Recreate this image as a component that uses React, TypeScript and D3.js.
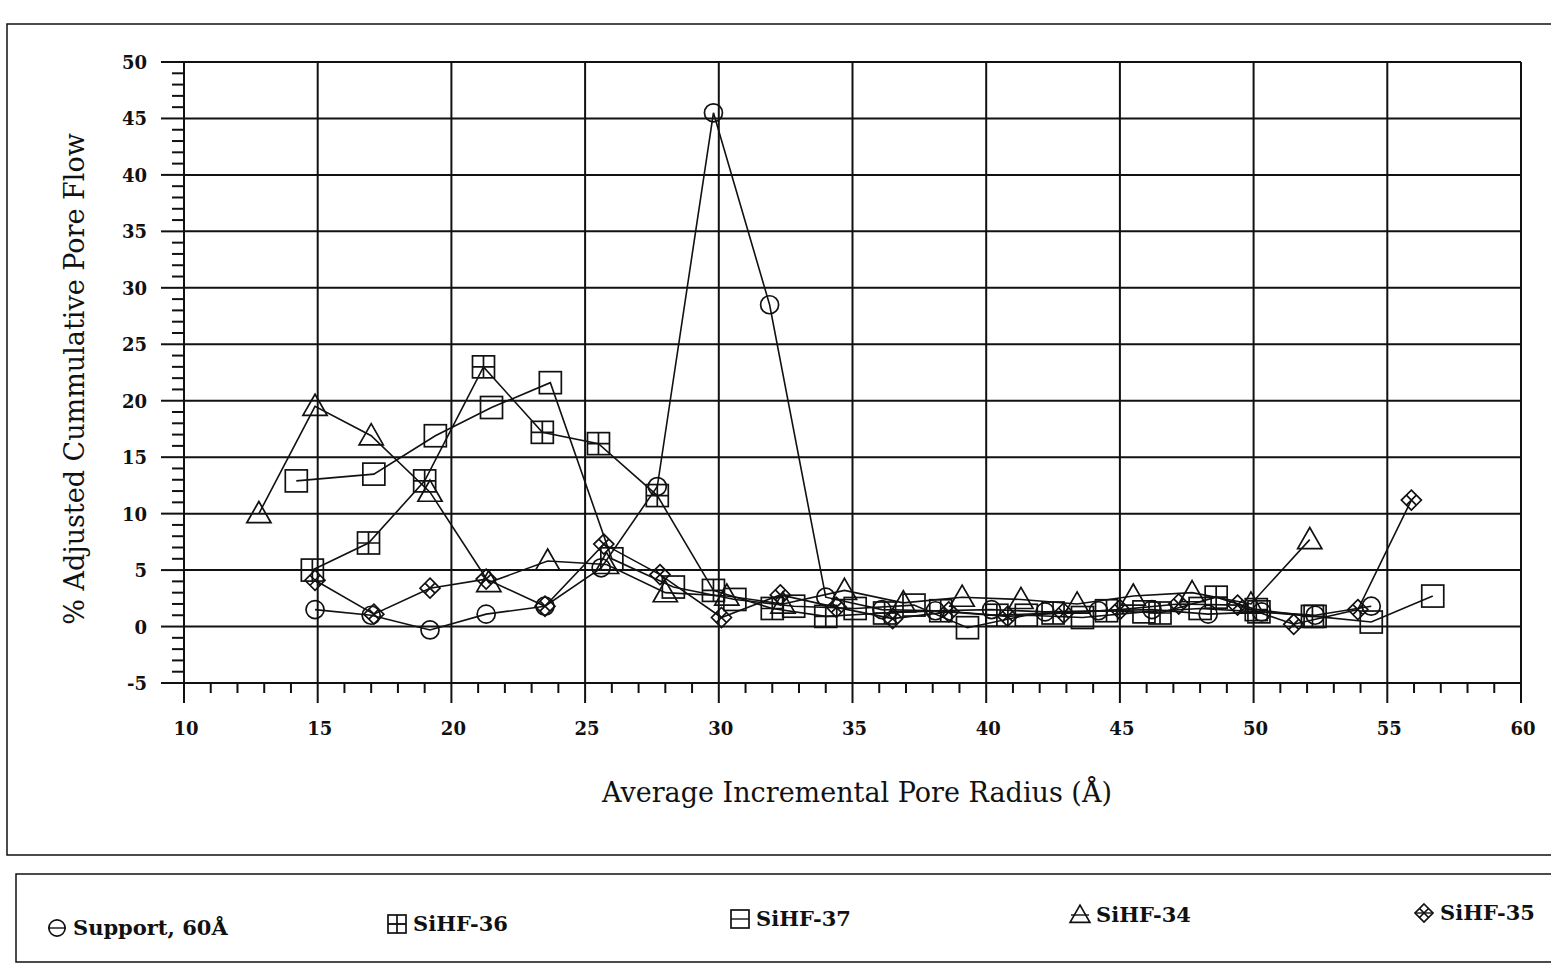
import React, { useEffect, useRef } from 'react';
import * as d3 from 'd3';

const supportX = [14.9, 17.0, 19.2, 21.3, 23.5, 25.6, 27.7, 29.8, 31.9, 34.0, 36.1, 38.1, 40.2, 42.2, 44.2, 46.2, 48.3, 50.3, 52.3, 54.4];
const supportY = [1.5, 1.0, -0.3, 1.1, 1.8, 5.2, 12.4, 45.5, 28.5, 2.6, 1.5, 1.4, 1.5, 1.3, 1.4, 1.5, 1.1, 1.3, 1.0, 1.8];

const sihf36X = [14.8, 16.9, 19.0, 21.2, 23.4, 25.5, 27.7, 29.8, 32.0, 34.0, 36.2, 38.3, 40.4, 42.5, 44.5, 46.5, 48.6, 50.1, 52.2];
const sihf36Y = [5.0, 7.4, 12.9, 23.0, 17.2, 16.2, 11.6, 3.2, 1.6, 0.9, 1.2, 1.4, 1.0, 1.2, 1.4, 1.2, 2.6, 1.5, 0.9];

const sihf37X = [14.2, 17.1, 19.4, 21.5, 23.7, 26.0, 28.3, 30.6, 32.8, 35.1, 37.3, 39.3, 41.5, 43.6, 45.9, 48.0, 50.2, 52.3, 54.4, 56.7];
const sihf37Y = [12.9, 13.5, 16.9, 19.4, 21.6, 6.0, 3.5, 2.4, 1.8, 1.6, 1.9, -0.1, 1.0, 0.8, 1.3, 1.6, 1.3, 0.9, 0.4, 2.7];

const sihf34X = [12.8, 14.9, 17.0, 19.2, 21.4, 23.6, 25.8, 28.0, 30.3, 32.4, 34.7, 36.9, 39.1, 41.3, 43.4, 45.5, 47.7, 49.9, 52.1];
const sihf34Y = [10.0, 19.5, 16.9, 11.9, 3.9, 5.8, 5.5, 3.0, 2.7, 2.0, 3.2, 2.1, 2.6, 2.4, 2.0, 2.7, 3.0, 2.0, 7.7];

const sihf35X = [14.9, 17.1, 19.2, 21.3, 23.5, 25.7, 27.8, 30.1, 32.3, 34.4, 36.5, 38.6, 40.8, 42.9, 45.0, 47.2, 49.4, 51.5, 53.9, 55.9];
const sihf35Y = [4.1, 1.1, 3.4, 4.2, 1.8, 7.3, 4.6, 0.8, 2.8, 1.7, 0.7, 1.3, 0.9, 1.2, 1.5, 2.0, 1.9, 0.2, 1.5, 11.2];

const seriesNames = ['Support, 60Å', 'SiHF-36', 'SiHF-37', 'SiHF-34', 'SiHF-35'];
const markerKinds = ['circle', 'crossSquare', 'square', 'triangle', 'crossDiamond'];

const xTicks = [10, 15, 20, 25, 30, 35, 40, 45, 50, 55, 60];
const yTicks = [-5, 0, 5, 10, 15, 20, 25, 30, 35, 40, 45, 50];

const FONT = '"DejaVu Serif", "Liberation Serif", serif';

// draws one open marker centred on 0,0
function drawMarker(g: any, kind: string, s: number) {
  const st = (sel: any) => sel.attr('fill', 'none').attr('stroke', '#111').attr('stroke-width', 1.7);
  if (kind === 'circle') {
    st(g.append('circle').attr('r', s * 0.45));
  } else if (kind === 'square' || kind === 'crossSquare') {
    const h = s / 2;
    st(g.append('rect').attr('x', -h).attr('y', -h).attr('width', s).attr('height', s));
    if (kind === 'crossSquare') {
      st(g.append('path').attr('d', `M${-h},0H${h}M0,${-h}V${h}`));
    }
  } else if (kind === 'triangle') {
    const h = s * 0.55;
    st(g.append('path').attr('d', `M0,${-h}L${h},${h * 0.75}L${-h},${h * 0.75}Z`));
  } else if (kind === 'crossDiamond') {
    const h = s * 0.5;
    st(g.append('path').attr('d', `M0,${-h}L${h},0L0,${h}L${-h},0Z`));
    const q = h / 2;
    st(g.append('path').attr('d', `M${-q},${-q}L${q},${q}M${q},${-q}L${-q},${q}`));
  }
}

const App = () => {
  const ref = useRef<SVGSVGElement>(null);

  useEffect(() => {
    const width = 1551,
      height = 964,
      plot = { left: 184, right: 1521, top: 62, bottom: 683 };

    const svg = d3.select(ref.current);
    svg.selectAll('*').remove();

    const x = d3.scaleLinear().domain([10, 60]).range([plot.left, plot.right]);
    const y = d3.scaleLinear().domain([-5, 50]).range([plot.bottom, plot.top]);

    svg.append('rect').attr('width', width).attr('height', height).attr('fill', 'white');

    // outer chart frame and legend frame
    svg.append('path')
      .attr('d', 'M1560,24H7V855H1560')
      .attr('fill', 'none').attr('stroke', '#111').attr('stroke-width', 1.5);
    svg.append('path')
      .attr('d', 'M1560,874H16V962H1560')
      .attr('fill', 'none').attr('stroke', '#111').attr('stroke-width', 1.5);

    // grid
    const grid = svg.append('g').attr('stroke', '#111').attr('stroke-width', 2);
    grid.selectAll('.hg').data(yTicks).enter().append('line')
      .attr('x1', plot.left).attr('x2', plot.right)
      .attr('y1', d => y(d)).attr('y2', d => y(d));
    grid.selectAll('.vg').data(xTicks).enter().append('line')
      .attr('x1', d => x(d)).attr('x2', d => x(d))
      .attr('y1', plot.top).attr('y2', plot.bottom);

    // minor + major ticks
    const ticks = svg.append('g').attr('stroke', '#111').attr('stroke-width', 2);
    ticks.selectAll('.xt').data(d3.range(10, 61, 1)).enter().append('line')
      .attr('x1', d => x(d)).attr('x2', d => x(d))
      .attr('y1', plot.bottom).attr('y2', d => plot.bottom + (d % 5 === 0 ? 20 : 10));
    ticks.selectAll('.yt').data(d3.range(-5, 51, 1)).enter().append('line')
      .attr('y1', d => y(d)).attr('y2', d => y(d))
      .attr('x1', plot.left).attr('x2', d => plot.left - (d % 5 === 0 ? 23 : 12));

    // tick labels
    svg.selectAll('.xl').data(xTicks).enter().append('text')
      .attr('x', d => x(d) + 2).attr('y', 735)
      .attr('text-anchor', 'middle')
      .style('font-family', FONT).style('font-size', '18px').style('font-weight', 'bold').style('fill', '#111')
      .text(d => d);
    svg.selectAll('.yl').data(yTicks).enter().append('text')
      .attr('x', 147).attr('y', d => y(d) + 7)
      .attr('text-anchor', 'end')
      .style('font-family', FONT).style('font-size', '18px').style('font-weight', 'bold').style('fill', '#111')
      .text(d => d);

    // axis titles
    svg.append('text')
      .attr('x', 857).attr('y', 802)
      .attr('text-anchor', 'middle')
      .style('font-family', FONT).style('font-size', '27px').style('fill', '#111')
      .text('Average Incremental Pore Radius (Å)');
    svg.append('text')
      .attr('transform', 'translate(84,379) rotate(-90)')
      .attr('text-anchor', 'middle')
      .style('font-family', FONT).style('font-size', '27px').style('fill', '#111')
      .text('% Adjusted Cummulative Pore Flow');

    // series
    const xsAll = [supportX, sihf36X, sihf37X, sihf34X, sihf35X];
    const ysAll = [supportY, sihf36Y, sihf37Y, sihf34Y, sihf35Y];
    const line = d3.line<[number, number]>().x(d => x(d[0])).y(d => y(d[1]));
    const sizes = [20, 22, 22, 22, 20];

    const series = xsAll.map((xs, i) => xs.map((v, j) => [v, ysAll[i][j]] as [number, number]));

    series.forEach(pts => {
      svg.append('path')
        .attr('d', line(pts))
        .attr('fill', 'none').attr('stroke', '#111').attr('stroke-width', 1.6);
    });
    series.forEach((pts, i) => {
      pts.forEach(p => {
        const g = svg.append('g').attr('transform', `translate(${x(p[0])},${y(p[1])})`);
        drawMarker(g, markerKinds[i], sizes[i]);
      });
    });

    // legend
    const legendX = [57, 397, 740, 1080, 1424];
    const legendY = [928, 924, 919, 915, 913];
    seriesNames.forEach((name, i) => {
      const g = svg.append('g').attr('transform', `translate(${legendX[i]},${legendY[i]})`);
      drawMarker(g, markerKinds[i], 18);
      g.append('line').attr('x1', -9).attr('x2', 9).attr('y1', 0).attr('y2', 0)
        .attr('stroke', '#111').attr('stroke-width', 1.4);
      svg.append('text')
        .attr('x', legendX[i] + 16).attr('y', legendY[i] + 7)
        .style('font-family', FONT).style('font-size', '21px').style('font-weight', 'bold').style('fill', '#111')
        .text(name);
    });
  }, []);

  return (
    <svg
      ref={ref}
      width={1551}
      height={964}
      style={{ position: 'absolute', left: 0, top: 0 }}
    />
  );
};

export default App;
